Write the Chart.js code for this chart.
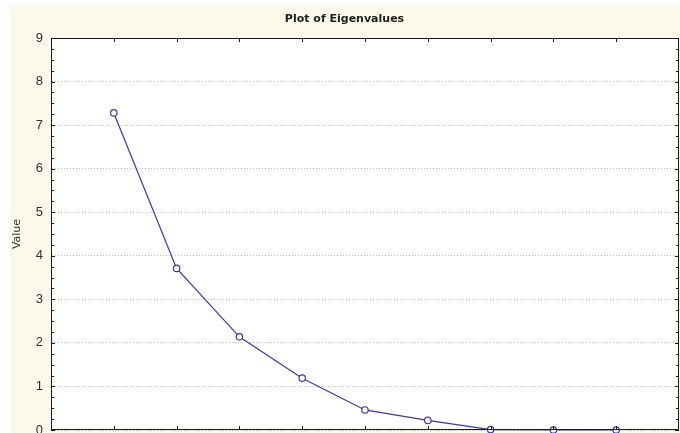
<!DOCTYPE html>
<html>
<head>
<meta charset="utf-8">
<script src="https://cdn.jsdelivr.net/npm/chart.js@4"></script>
<style>
  html, body { margin: 0; padding: 0; background: #ffffff; }
  #wrap { width: 680px; height: 433px; position: relative; }
</style>
</head>
<body>
<div id="wrap"><canvas id="c" width="680" height="433"></canvas></div>
<script>
const components = [1, 2, 3, 4, 5, 6, 7, 8, 9];
const eigenvalues = [7.28, 3.71, 2.14, 1.19, 0.46, 0.22, 0.01, 0.0, 0.0];
const yTickValues = [0, 1, 2, 3, 4, 5, 6, 7, 8, 9];
const titleText = 'Plot of Eigenvalues';
const yAxisTitle = 'Value';

const points = components.map((c, i) => ({ x: c, y: eigenvalues[i] }));

const framePlugin = {
  id: 'frame',
  beforeDraw(chart) {
    const ctx = chart.ctx;
    ctx.save();
    ctx.fillStyle = '#ffffff';
    ctx.fillRect(0, 0, chart.width, chart.height);
    ctx.fillStyle = '#fcf8eb';
    ctx.fillRect(10, 5, chart.width - 10, chart.height - 5);
    const a = chart.chartArea;
    ctx.fillStyle = '#ffffff';
    ctx.fillRect(a.left, a.top, a.right - a.left, a.bottom - a.top);
    ctx.restore();
  },
  afterDatasetsDraw(chart) {
    const ctx = chart.ctx;
    const a = chart.chartArea;
    const xs = chart.scales.x, ys = chart.scales.y;
    ctx.save();
    ctx.strokeStyle = '#1a1a1a';
    ctx.lineWidth = 1;
    ctx.beginPath();
    ctx.moveTo(a.left + 0.5, a.top + 0.5);
    ctx.lineTo(a.right - 0.5, a.top + 0.5);
    ctx.lineTo(a.right - 0.5, a.bottom - 0.5);
    ctx.lineTo(a.left + 0.5, a.bottom - 0.5);
    ctx.closePath();
    ctx.stroke();
    ctx.beginPath();
    components.forEach(c => {
      const px = Math.round(xs.getPixelForValue(c)) + 0.5;
      ctx.moveTo(px, a.top); ctx.lineTo(px, a.top + 4);
      ctx.moveTo(px, a.bottom); ctx.lineTo(px, a.bottom - 4);
    });
    for (let i = 0; i <= 36; i++) {
      const v = i / 4;
      const py = Math.round(ys.getPixelForValue(v)) + 0.5;
      const len = (i % 4 === 0) ? 4 : 3;
      ctx.moveTo(a.left, py); ctx.lineTo(a.left + len, py);
      ctx.moveTo(a.right, py); ctx.lineTo(a.right - len, py);
    }
    ctx.stroke();
    ctx.restore();
  }
};

new Chart(document.getElementById('c'), {
  type: 'line',
  data: {
    datasets: [{
      data: points,
      borderColor: '#3838a8',
      borderWidth: 1.2,
      pointRadius: 3.2,
      pointBorderWidth: 1.2,
      pointBackgroundColor: '#ffffff',
      pointBorderColor: '#3838a8',
      tension: 0,
      clip: 6
    }]
  },
  options: {
    responsive: false,
    animation: false,
    devicePixelRatio: 1,
    layout: { autoPadding: false, padding: { left: 10, right: 1, top: 0, bottom: 3 } },
    plugins: {
      legend: { display: false },
      tooltip: { enabled: false },
      title: {
        display: true,
        text: titleText,
        color: '#202020',
        font: { family: 'DejaVu Sans', size: 11, weight: 'bold' },
        padding: { top: 13, bottom: 11.8 }
      }
    },
    scales: {
      x: {
        type: 'linear',
        display: false,
        min: 0,
        max: 10
      },
      y: {
        type: 'linear',
        min: 0,
        max: 9,
        afterFit(scale) { scale.width = 41; scale.paddingTop = 0; scale.paddingBottom = 0; },
        afterBuildTicks(scale) { scale.ticks = yTickValues.map(v => ({ value: v })); },
        ticks: {
          color: '#303030',
          font: { family: 'Liberation Sans', size: 13 },
          padding: 8
        },
        grid: {
          color: '#bdbdbd',
          lineWidth: 1,
          drawTicks: false
        },
        border: { display: true, color: '#1a1a1a', dash: [1, 2] },
        title: {
          display: true,
          text: yAxisTitle,
          color: '#303030',
          font: { family: 'DejaVu Sans', size: 11 },
          padding: { top: 1, bottom: 0 }
        }
      }
    }
  },
  plugins: [framePlugin]
});
</script>
</body>
</html>
